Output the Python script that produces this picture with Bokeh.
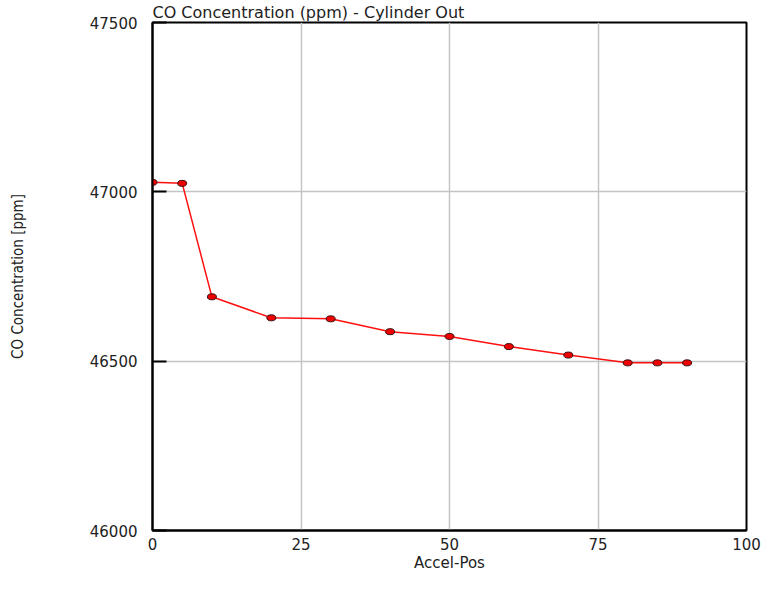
from bokeh.plotting import figure
from bokeh.models import FixedTicker, Range1d
from bokeh.embed import file_html
from bokeh.resources import INLINE

# Data
accel_pos = [0, 5, 10, 20, 30, 40, 50, 60, 70, 80, 85, 90]
co_ppm = [47028, 47025, 46690, 46628, 46625, 46587, 46573, 46543, 46518, 46495, 46495, 46495]

x_ticks = [0, 25, 50, 75, 100]
y_ticks = [46000, 46500, 47000, 47500]

title_text = "CO Concentration (ppm) - Cylinder Out"
x_label = "Accel-Pos"
y_label = "CO Concentration [ppm]"

p = figure(width=761, height=574, output_backend="svg", toolbar_location=None,
           x_range=Range1d(0, 100), y_range=Range1d(46000, 47500),
           title=title_text,
           min_border_left=152, min_border_right=15, min_border_top=22, min_border_bottom=34)

p.background_fill_color = "white"
p.border_fill_color = "white"
p.outline_line_color = "black"
p.outline_line_width = 2

p.title.align = "left"
p.title.offset = 0
p.title.standoff = 1
p.title.text_font = "DejaVu Sans"
p.title.text_font_size = "16px"
p.title.text_font_style = "normal"
p.title.text_color = "#222222"

# axes
p.xaxis.ticker = FixedTicker(ticks=x_ticks)
p.yaxis.ticker = FixedTicker(ticks=y_ticks)
p.xaxis.axis_label = x_label
p.yaxis.axis_label = y_label

for ax in (p.xaxis[0], p.yaxis[0]):
    ax.axis_line_color = "black"
    ax.axis_line_width = 2
    ax.minor_tick_line_color = None
    ax.major_label_text_font = "DejaVu Sans"
    ax.major_label_text_font_size = "15px"
    ax.major_label_text_color = "#222222"
    ax.axis_label_text_font_style = "normal"
    ax.axis_label_text_color = "#222222"

p.xaxis.major_tick_line_color = None
p.xaxis.major_label_standoff = 1
p.xaxis.axis_label_standoff = 1
p.xaxis.axis_label_text_font = "DejaVu Sans"
p.xaxis.axis_label_text_font_size = "15px"

p.yaxis.major_tick_in = 14
p.yaxis.major_tick_out = 0
p.yaxis.major_tick_line_color = "black"
p.yaxis.major_tick_line_width = 2
p.yaxis.major_label_standoff = 15
p.yaxis.axis_label_standoff = 60
p.yaxis.axis_label_text_font = "DejaVu Sans Condensed"
p.yaxis.axis_label_text_font_size = "15px"

# grid
p.xgrid.grid_line_color = "#c4c4c4"
p.ygrid.grid_line_color = "#c4c4c4"
p.xgrid.grid_line_width = 1.5
p.ygrid.grid_line_width = 1.5

# series
p.line(accel_pos, co_ppm, line_color="#ff1010", line_width=1.5)
p.ellipse(x=accel_pos, y=co_ppm, width=9, height=6, width_units="screen", height_units="screen",
          fill_color="#ee0000", line_color="#331111", line_width=1)

open("out.html", "w").write(file_html(p, INLINE))
